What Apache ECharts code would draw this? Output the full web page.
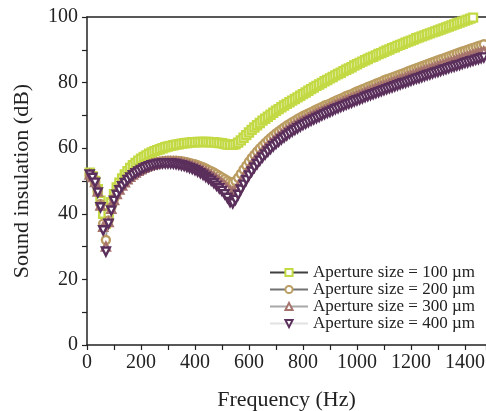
<!DOCTYPE html>
<html><head><meta charset="utf-8">
<script src="https://cdn.jsdelivr.net/npm/echarts@6/dist/echarts.min.js"></script>
<style>html,body{margin:0;padding:0;background:#fff}#c{width:486px;height:411px}</style>
</head><body><div id="c"></div>
<script>
// Frequency grid (Hz): 10, 20, ..., 1480
const freqStart = 10, freqStep = 10, freqCount = 148;
const freqs = [];
for (let i = 0; i < freqCount; i++) freqs.push(freqStart + i * freqStep);

const seriesNames = ['Aperture size = 100 µm','Aperture size = 200 µm','Aperture size = 300 µm','Aperture size = 400 µm'];

const sl100 = [
52.5,51.5,50,47.5,44,40,37,40,43.5,46,
48,49.5,50.8,52,53,54,54.8,55.5,56.2,56.8,
57.3,57.8,58.3,58.7,59.1,59.4,59.7,60,60.3,60.5,
60.7,60.9,61.1,61.2,61.4,61.5,61.6,61.7,61.8,61.8,
61.9,61.9,61.9,61.9,61.9,61.8,61.8,61.7,61.6,61.5,
61.3,61.1,61,61,61.2,61.7,62.4,63.2,64,64.8,
65.6,66.3,67,67.7,68.4,69,69.6,70.2,70.8,71.4,
71.9,72.5,73,73.5,74,74.5,75,75.5,76,76.5,
77,77.5,78,78.5,79,79.4,79.9,80.4,80.8,81.3,
81.7,82.2,82.6,83,83.5,83.9,84.3,84.7,85.2,85.6,
86,86.4,86.8,87.2,87.6,87.9,88.3,88.7,89,89.4,
89.8,90.1,90.5,90.8,91.2,91.5,91.8,92.2,92.5,92.8,
93.1,93.5,93.8,94.1,94.4,94.7,95,95.3,95.6,95.9,
96.2,96.5,96.8,97.1,97.4,97.7,98,98.3,98.6,98.9,
99.2,99.5,99.8,100.1,100.3,100.6,100.9,101.2];

const sl200 = [
52,51.3,49.8,47,43,37,32,38,42,44.5,
46.3,47.7,48.9,49.9,50.8,51.6,52.3,52.9,53.4,53.9,
54.3,54.7,55,55.3,55.5,55.7,55.9,56,56.1,56.2,
56.2,56.2,56.2,56.1,56,55.9,55.7,55.5,55.3,55.1,
54.8,54.5,54.2,53.8,53.4,53,52.6,52.1,51.6,51.1,
50.6,50.1,49.7,49.5,50,51,52.2,53.5,54.7,55.9,
57,58,59,59.9,60.8,61.6,62.4,63.1,63.8,64.5,
65.1,65.7,66.3,66.9,67.4,67.9,68.4,68.9,69.4,69.8,
70.2,70.6,71,71.4,71.8,72.2,72.6,73,73.3,73.6,
74,74.4,74.8,75.1,75.5,75.9,76.2,76.5,76.9,77.3,
77.6,78,78.3,78.7,79,79.3,79.7,80,80.3,80.7,
81,81.3,81.6,81.9,82.2,82.5,82.8,83.1,83.5,83.8,
84.1,84.4,84.7,85,85.3,85.6,85.9,86.2,86.5,86.8,
87.1,87.4,87.7,88,88.3,88.6,88.9,89.2,89.5,89.7,
90,90.3,90.6,90.9,91.2,91.4,91.7,92];

const sl300 = [
52,51.2,49.7,46.8,42.5,36,30,37.5,41.5,44.2,
46,47.4,48.6,49.6,50.5,51.3,52,52.6,53.1,53.6,
54,54.4,54.7,55,55.2,55.4,55.6,55.7,55.8,55.8,
55.8,55.8,55.7,55.6,55.5,55.3,55.1,54.9,54.6,54.3,
54,53.6,53.2,52.8,52.3,51.8,51.2,50.6,50,49.3,
48.6,47.8,47,46.6,47.2,48.4,49.8,51.2,52.5,53.8,
55,56.1,57.1,58.1,59,59.9,60.7,61.5,62.2,62.9,
63.6,64.2,64.8,65.4,66,66.5,67,67.5,68,68.4,
68.8,69.2,69.7,70.1,70.5,70.9,71.3,71.6,72,72.4,
72.7,73.1,73.5,73.8,74.2,74.5,74.9,75.2,75.5,75.9,
76.2,76.5,76.9,77.2,77.5,77.8,78.2,78.5,78.8,79.1,
79.4,79.7,80,80.3,80.6,80.9,81.2,81.5,81.8,82.1,
82.4,82.7,83,83.3,83.6,83.8,84.1,84.4,84.7,85,
85.2,85.5,85.8,86.1,86.3,86.6,86.9,87.1,87.4,87.7,
87.9,88.2,88.5,88.7,89,89.2,89.5,89.8];

const sl400 = [
52,51,49.5,46.5,42,35,28.5,37,41,44,
45.8,47.2,48.4,49.4,50.3,51.1,51.8,52.4,52.9,53.4,
53.8,54.2,54.5,54.8,55,55.2,55.3,55.4,55.4,55.4,
55.4,55.3,55.2,55,54.8,54.6,54.3,54,53.7,53.3,
52.9,52.4,51.9,51.3,50.7,50.1,49.4,48.6,47.8,47,
46,44.9,43.6,43.2,44.3,45.8,47.4,48.9,50.3,51.7,
52.9,54.1,55.2,56.2,57.2,58.1,59,59.8,60.6,61.3,
62,62.7,63.3,63.9,64.5,65.1,65.6,66.1,66.6,67.1,
67.5,68,68.4,68.8,69.2,69.6,70,70.4,70.8,71.1,
71.5,71.9,72.2,72.6,72.9,73.3,73.6,73.9,74.3,74.6,
74.9,75.2,75.6,75.9,76.2,76.5,76.8,77.1,77.4,77.7,
78,78.3,78.6,78.9,79.2,79.5,79.8,80,80.3,80.6,
80.9,81.2,81.4,81.7,82,82.3,82.5,82.8,83.1,83.3,
83.6,83.9,84.1,84.4,84.7,84.9,85.2,85.4,85.7,86,
86.2,86.5,86.7,87,87.2,87.5,87.7,88];

const xTickLabels = ['0','200','400','600','800','1000','1200','1400'];
const yTickLabels = ['0','20','40','60','80','100'];

const values = [sl100, sl200, sl300, sl400];
const markerColors = ['#c3da45', '#bb9d62', '#a7736d', '#5b2f5b'];
const lineColors = ['#3f3f3f', '#727272', '#a8a8a8', '#e2e2e2'];
const symbols = ['rect', 'circle', 'triangle', 'path://M0,0 L10,0 L5,9 Z'];

const serif = 'Liberation Serif';
const chart = echarts.init(document.getElementById('c'), null, {renderer: 'canvas'});

const series = values.map((arr, k) => ({
  name: seriesNames[k],
  type: 'line',
  data: arr.map((v, i) => [freqs[i], v]),
  symbol: symbols[k],
  symbolSize: 8,
  showAllSymbol: true,
  clip: true,
  lineStyle: {color: lineColors[k], width: 1},
  itemStyle: {color: '#ffffff', borderColor: markerColors[k], borderWidth: 2.4},
  emphasis: {disabled: true},
  animation: false
}));

chart.setOption({
  animation: false,
  backgroundColor: '#ffffff',
  grid: {left: 87, right: 0, top: 17, bottom: 66, containLabel: false, outerBoundsMode: 'none'},
  legend: {
    orient: 'vertical',
    left: 264, top: 259,
    itemWidth: 38, itemHeight: 9, itemGap: 0,
    textStyle: {fontFamily: serif, fontSize: 17, color: '#222', lineHeight: 16},
    data: seriesNames.map((n, k) => ({name: n, lineStyle: {width: 2}}))
  },
  xAxis: [{
    type: 'value', min: 0, max: 1478, interval: 200,
    name: 'Frequency (Hz)', nameLocation: 'middle', nameGap: 44,
    nameTextStyle: {fontFamily: serif, fontSize: 22, color: '#222'},
    axisLine: {lineStyle: {color: '#222', width: 1.5}},
    axisTick: {show: true, length: 5, lineStyle: {color: '#222', width: 1.2}},
    minorTick: {show: true, splitNumber: 2, length: 5, lineStyle: {color: '#222', width: 1.2}},
    splitLine: {show: false},
    axisLabel: {
      fontFamily: serif, fontSize: 20, color: '#222', margin: 8,
      showMaxLabel: false,
      formatter: v => xTickLabels.indexOf(String(v)) >= 0 ? String(v) : ''
    }
  }, {
    type: 'value', position: 'top', min: 0, max: 1478,
    axisLine: {show: true, lineStyle: {color: '#222', width: 1.5}},
    axisTick: {show: false}, axisLabel: {show: false}, splitLine: {show: false}
  }],
  yAxis: {
    type: 'value', min: 0, max: 100, interval: 20,
    name: 'Sound insulation (dB)', nameLocation: 'middle', nameGap: 54,
    nameTextStyle: {fontFamily: serif, fontSize: 22, color: '#222'},
    axisLine: {show: true, lineStyle: {color: '#222', width: 1.5}},
    axisTick: {show: true, length: 5, lineStyle: {color: '#222', width: 1.2}},
    minorTick: {show: true, splitNumber: 2, length: 5, lineStyle: {color: '#222', width: 1.2}},
    splitLine: {show: false},
    axisLabel: {
      fontFamily: serif, fontSize: 20, color: '#222', margin: 9,
      formatter: v => yTickLabels.indexOf(String(v)) >= 0 ? String(v) : ''
    }
  },
  series: series
});
</script></body></html>
